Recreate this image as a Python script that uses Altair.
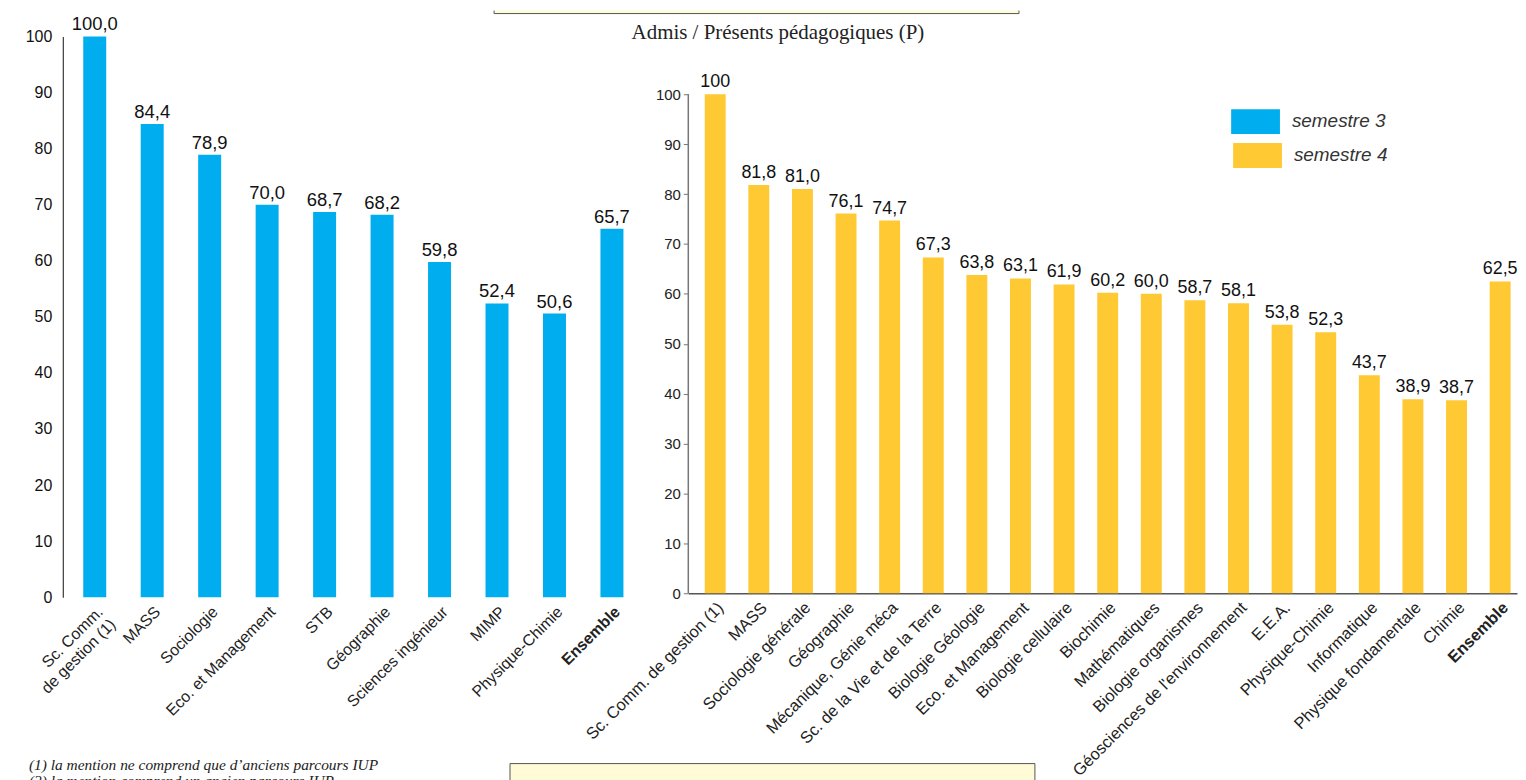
import altair as alt
import pandas as pd

# ---------------- data ----------------
s3_categories = ["Sc. Comm. de gestion (1)", "MASS", "Sociologie", "Eco. et Management", "STB",
                 "Géographie", "Sciences ingénieur", "MIMP", "Physique-Chimie", "Ensemble"]
s3_values = [100.0, 84.4, 78.9, 70.0, 68.7, 68.2, 59.8, 52.4, 50.6, 65.7]
s3_labels = ["100,0", "84,4", "78,9", "70,0", "68,7", "68,2", "59,8", "52,4", "50,6", "65,7"]

s4_categories = ["Sc. Comm. de gestion (1)", "MASS", "Sociologie générale", "Géographie",
                 "Mécanique, Génie méca", "Sc. de la Vie et de la Terre", "Biologie Géologie",
                 "Eco. et Management", "Biologie cellulaire", "Biochimie", "Mathématiques",
                 "Biologie organismes", "Géosciences de l'environnement", "E.E.A.", "Physique-Chimie",
                 "Informatique", "Physique fondamentale", "Chimie", "Ensemble"]
s4_values = [100, 81.8, 81.0, 76.1, 74.7, 67.3, 63.8, 63.1, 61.9, 60.2, 60.0, 58.7, 58.1,
             53.8, 52.3, 43.7, 38.9, 38.7, 62.5]
s4_labels = ["100", "81,8", "81,0", "76,1", "74,7", "67,3", "63,8", "63,1", "61,9", "60,2",
             "60,0", "58,7", "58,1", "53,8", "52,3", "43,7", "38,9", "38,7", "62,5"]

y_ticks = [0, 10, 20, 30, 40, 50, 60, 70, 80, 90, 100]
legend_labels = ["semestre 3", "semestre 4"]
title_text = ["Admis / Présents pédagogiques (P)"]
footnote1 = ["(1) la mention ne comprend que d’anciens parcours IUP"]
footnote2 = ["(2) la mention comprend un ancien parcours IUP"]

BLUE = "#00AEEF"
YELLOW = "#FFC933"
BOXFILL = "#FFFBD6"
SANS = "Liberation Sans"
SERIF = "Liberation Serif"

df3 = pd.DataFrame({"cat": s3_categories, "val": s3_values, "lab": s3_labels})
df4 = pd.DataFrame({"cat": s4_categories, "val": s4_values, "lab": s4_labels})
one = pd.DataFrame({"k": [0]})

bold_cond = {"condition": {"test": "datum.value == 'Ensemble'", "value": "bold"}, "value": "normal"}
first_label_expr = ("datum.value == 'Sc. Comm. de gestion (1)' ? ['Sc. Comm.', 'de gestion (1)'] "
                    ": datum.label")

# ---------------- left chart (semestre 3) ----------------
x3 = alt.X("cat:N", sort=s3_categories, title=None,
           scale=alt.Scale(paddingInner=0.60, paddingOuter=0.309, align=0.576),
           axis=alt.Axis(domain=False, ticks=False, labelAngle=-45, labelFont=SANS,
                         labelFontSize=16, labelColor="#222",
                         labelPadding=6, labelFontWeight=bold_cond, labelLimit=400,
                         labelOverlap=False, labelLineHeight=18,
                         labelExpr=first_label_expr))
y3 = alt.Y("val:Q", title=None,
           scale=alt.Scale(domain=[0, 100], nice=False, zero=True),
           axis=alt.Axis(values=y_ticks, grid=False, ticks=False, domainColor="#111",
                         labelFont=SANS, labelFontSize=16, labelColor="#111", labelPadding=11))

bars3 = alt.Chart(df3).mark_bar(color=BLUE).encode(x=x3, y=y3)
text3 = alt.Chart(df3).mark_text(baseline="bottom", dy=-2, font=SANS, fontSize=18.5,
                                 color="#111").encode(x=alt.X("cat:N", sort=s3_categories),
                                                      y="val:Q", text="lab:N")
anchor = alt.Chart(one).mark_rule(color="white", strokeWidth=1).encode(
    x=alt.value(-54), y=alt.value(-26), y2=alt.value(-25))
fn1 = alt.Chart(pd.DataFrame({"t": footnote1})).mark_text(
    align="left", baseline="middle", font=SERIF, fontStyle="italic", fontSize=15.5,
    color="#222").encode(x=alt.value(-34), y=alt.value(731), text="t:N")
fn2 = alt.Chart(pd.DataFrame({"t": footnote2})).mark_text(
    align="left", baseline="middle", font=SERIF, fontStyle="italic", fontSize=15.5,
    color="#222").encode(x=alt.value(-34), y=alt.value(748), text="t:N")

left = alt.layer(bars3, text3, anchor, fn1, fn2).properties(width=578, height=563)

# ---------------- right chart (semestre 4) ----------------
x4 = alt.X("cat:N", sort=s4_categories, title=None,
           scale=alt.Scale(paddingInner=0.52, paddingOuter=0.262, align=0.72),
           axis=alt.Axis(domain=True, domainColor="#555", domainWidth=1.5, ticks=False,
                         labelAngle=-45, labelFont=SANS,
                         labelFontSize=16.5, labelColor="#222", labelPadding=6,
                         labelFontWeight=bold_cond, labelLimit=400, labelOverlap=False))
y4 = alt.Y("val:Q", title=None,
           scale=alt.Scale(domain=[0, 111.58], nice=False, zero=True),
           axis=alt.Axis(values=y_ticks, grid=False, domain=False, ticks=True, tickSize=5,
                         tickColor="#777", labelFont=SANS, labelFontSize=15,
                         labelColor="#222", labelPadding=3))

bars4 = alt.Chart(df4).mark_bar(color=YELLOW).encode(x=x4, y=y4)
text4 = alt.Chart(df4).mark_text(baseline="bottom", dy=-3, font=SANS, fontSize=18,
                                 color="#111").encode(x=alt.X("cat:N", sort=s4_categories),
                                                      y="val:Q", text="lab:N")
yrule = alt.Chart(one).mark_rule(color="#777", strokeWidth=1.5).encode(
    x=alt.value(0), y=alt.datum(0), y2=alt.datum(100))

title = alt.Chart(pd.DataFrame({"t": title_text})).mark_text(
    align="center", baseline="alphabetic", font=SERIF, fontSize=21, color="#222").encode(
    x=alt.value(90), y=alt.value(3), text="t:N")

leg3 = pd.DataFrame({"t": [legend_labels[0]]})
leg4 = pd.DataFrame({"t": [legend_labels[1]]})
leg_rect3 = alt.Chart(leg3).mark_rect(color=BLUE).encode(
    x=alt.value(545), x2=alt.value(594), y=alt.value(73), y2=alt.value(98))
leg_rect4 = alt.Chart(leg4).mark_rect(color=YELLOW).encode(
    x=alt.value(547), x2=alt.value(596), y=alt.value(107), y2=alt.value(132))
leg_txt3 = alt.Chart(leg3).mark_text(align="left", baseline="middle", font=SANS,
                                     fontStyle="italic", fontSize=19, color="#333").encode(
    x=alt.value(606), y=alt.value(85), text="t:N")
leg_txt4 = alt.Chart(leg4).mark_text(align="left", baseline="middle", font=SANS,
                                     fontStyle="italic", fontSize=19, color="#333").encode(
    x=alt.value(608), y=alt.value(119), text="t:N")

# decorative boxes (top and bottom)
topbox = alt.Chart(one).mark_rect(color=BOXFILL).encode(
    x=alt.value(-195), x2=alt.value(332), y=alt.value(-26), y2=alt.value(-23))
topbox_l = alt.Chart(one).mark_rule(color="#555", strokeWidth=1).encode(
    x=alt.value(-195), y=alt.value(-26), y2=alt.value(-23))
topbox_r = alt.Chart(one).mark_rule(color="#555", strokeWidth=1).encode(
    x=alt.value(332), y=alt.value(-26), y2=alt.value(-23))
topbox_b = alt.Chart(one).mark_rule(color="#555", strokeWidth=1).encode(
    x=alt.value(-195), x2=alt.value(332), y=alt.value(-23))
botbox = alt.Chart(one).mark_rect(fill=BOXFILL, stroke="#555", strokeWidth=1).encode(
    x=alt.value(-179), x2=alt.value(348), y=alt.value(730), y2=alt.value(770))

right = alt.layer(topbox, topbox_l, topbox_r, topbox_b, botbox, bars4, text4, yrule, title,
                  leg_rect3, leg_rect4, leg_txt3, leg_txt4).properties(width=832, height=559)

chart = alt.hconcat(left, right, spacing=50, bounds="flush").properties(
    padding=0, background="white").configure_view(stroke=None)

chart.save("out.html", embed_options={"renderer": "svg", "actions": False})
